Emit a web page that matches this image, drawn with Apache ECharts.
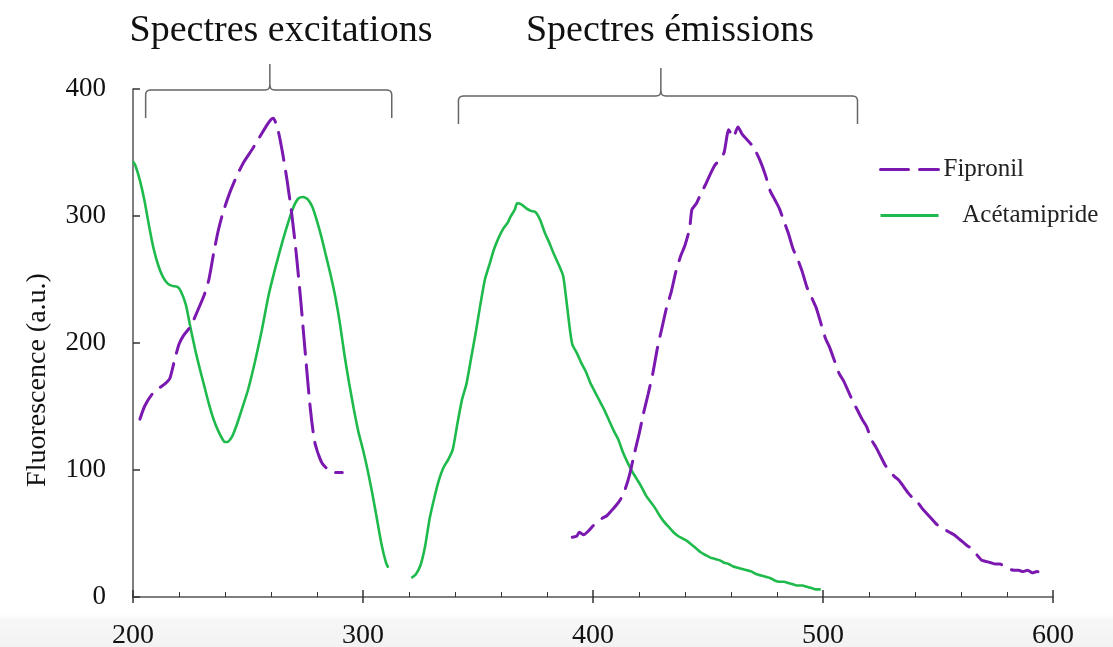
<!DOCTYPE html>
<html>
<head>
<meta charset="utf-8">
<script src="https://cdn.jsdelivr.net/npm/echarts@6/dist/echarts.min.js"></script>
<style>
html,body{margin:0;padding:0;background:#fff;}
#c{width:1113px;height:647px;}
</style>
</head>
<body>
<div id="c"></div>
<script>
// ---- data (wavelength nm, fluorescence a.u.) ----
const seriesNames = ['Fipronil', 'Acétamipride'];
const xTicks = [200, 300, 400, 500, 600];
const yTicks = [0, 100, 200, 300, 400];
const sectionTitles = ['Spectres excitations', 'Spectres émissions'];
const yAxisTitle = 'Fluorescence (a.u.)';
// brace ranges in wavelength units: [start, centre, end]
const excitationBrace = [205.5, 259.5, 312.5];
const emissionBrace = [341.5, 429.5, 515];

const fipronilExcitation = [[203,140],[205,150],[208,159],[211,164],[214,168],[216,172],[218,186],[220,199],[222,206],[225,213],[228,225],[231,238],[233,250],[235,270],[237,288],[239,302],[242,318],[245,331],[248,342],[252,353],[255,362],[258,371],[260,376],[261,377],[263,368],[265,350],[267,328],[269,302],[271,270],[273,232],[275,190],[277,150],[279,122],[282,106],[285,100],[288,98],[291,98]];

const acetamiprideExcitation = [[200,343],[201,340],[203,328],[205,312],[207,292],[209,274],[211,261],[213,252],[215,247],[217,245],[219.5,244],[221,240],[223,230],[225,212],[227,195],[229,180],[231,166],[233,152],[235,140],[237,131],[239,124],[240,122],[241,122],[243,126],[245,135],[247,146],[250,163],[253,185],[256,210],[259,238],[262,260],[265,280],[268,298],[270,308],[272,314],[274,315],[276,313],[278,307],[280,296],[282,283],[284,268],[286,253],[288,236],[290,215],[292,190],[294,168],[296,148],[298,130],[300,116],[302,100],[304,82],[306,62],[308,42],[310,27],[311,23]];

const acetamiprideEmission = [[321,15],[323,18],[325,25],[327,40],[329,62],[331,78],[333,92],[335,102],[337,108],[339,116],[341,136],[343,155],[345,168],[347,188],[349,208],[351,230],[353,250],[355,262],[357,274],[359,283],[361,290],[363,295],[364,299],[366,305],[367,310],[369,309],[371,306],[373,304],[375,303],[377,297],[379,287],[381,279],[383,270],[385,262],[387,253],[388,240],[389,225],[390,210],[391,199],[393,192],[395,184],[397,177],[399,168],[401,161],[403,154],[405,147],[407,139],[409,131],[411,124],[413,114],[415,106],[417,99],[419,93],[421,87],[423,80],[425,75],[427,70],[429,64],[431,59],[433,55],[435,51],[437,48],[439,46],[441,44],[443,41],[445,38],[447,35],[449,33],[451,31],[453,30],[455,29],[457,27],[459,26],[461,24],[463,23],[465,22],[467,21],[469,20],[471,18],[473,17],[475,16],[477,15],[479,13],[481,12],[483,12],[485,11],[487,10],[489,9],[491,9],[493,8],[495,7],[497,6],[499,6]];

const fipronilEmission = [[391,47],[393,48],[394,51],[396,49],[398,52],[400,56],[402,59],[404,62],[406,64],[408,68],[410,72],[412,77],[414,85],[416,97],[418,113],[420,128],[422,145],[424,160],[426,176],[428,196],[430,212],[432,228],[434,240],[436,256],[438,268],[440,277],[442,290],[443,305],[445,310],[447,318],[449,325],[451,333],[453,340],[455,344],[457,350],[459,368],[461,362],[463,370],[465,364],[467,360],[469,356],[471,350],[473,342],[475,332],[477,320],[479,313],[481,306],[483,296],[485,286],[487,274],[489,266],[491,256],[493,244],[495,236],[497,228],[499,216],[501,204],[503,196],[505,186],[507,176],[509,170],[511,162],[513,154],[515,147],[517,140],[519,134],[521,124],[523,118],[525,111],[527,104],[529,99],[531,95],[533,92],[535,87],[537,82],[539,78],[541,75],[543,70],[545,66],[547,62],[549,58],[551,55],[553,53],[555,51],[557,49],[559,46],[561,43],[563,40],[565,38],[567,33],[569,29],[571,28],[573,27],[575,26],[577,26],[579,24],[581,22],[583,21],[585,21],[587,20],[589,21],[591,19],[593,20],[595,19]];

// ---- styling ----
const PURPLE = '#7a18b0';
const GREEN = '#1fba4c';
const AXIS = '#555';
const SERIF = '"Liberation Serif", "DejaVu Serif", serif';
const FIP_DASH = [28, 11];

const chart = echarts.init(document.getElementById('c'), null, {renderer: 'canvas'});

function fipSeries(data) {
  return {
    name: seriesNames[0], type: 'line', data: data, showSymbol: false, symbol: 'none',
    smooth: 0.2, lineStyle: {color: PURPLE, width: 3, type: FIP_DASH, cap: 'round'},
    itemStyle: {color: PURPLE}, z: 3
  };
}
function aceSeries(data) {
  return {
    name: seriesNames[1], type: 'line', data: data, showSymbol: false, symbol: 'none',
    smooth: 0.2, lineStyle: {color: GREEN, width: 2.6},
    itemStyle: {color: GREEN}, z: 2
  };
}

const xMin = xTicks[0], xMax = xTicks[xTicks.length - 1];
const yMin = yTicks[0], yMax = yTicks[yTicks.length - 1];

chart.setOption({
  animation: false,
  backgroundColor: '#fff',
  grid: {left: 133, right: 60, top: 89, bottom: 50, containLabel: false, outerBoundsMode: 'none'},
  legend: {
    orient: 'vertical', left: 874, top: 152,
    itemWidth: 58, itemHeight: 24, itemGap: 21,
    itemStyle: {opacity: 0},
    textStyle: {fontFamily: SERIF, fontSize: 25, color: '#222'},
    data: [
      {name: seriesNames[0], lineStyle: {type: FIP_DASH, width: 3, color: PURPLE}},
      {name: seriesNames[1], lineStyle: {width: 3, color: GREEN}}
    ],
    formatter: function (n) { return n === seriesNames[1] ? '   ' + n : n; }
  },
  xAxis: [{
    type: 'value', min: xMin, max: xMax, interval: 100,
    axisLine: {show: true, lineStyle: {color: AXIS, width: 1.5}},
    axisTick: {show: true, inside: true, length: 7, lineStyle: {color: '#333', width: 1.5}},
    minorTick: {show: true, splitNumber: 5, length: 5, lineStyle: {color: '#333', width: 1}},
    splitLine: {show: false},
    axisLabel: {fontFamily: SERIF, fontSize: 28, color: '#111', margin: 25},
  }, {
    type: 'value', min: xMin, max: xMax, interval: 100, position: 'bottom',
    axisLine: {show: false},
    axisTick: {show: true, inside: false, length: 6, lineStyle: {color: '#333', width: 1.5}},
    axisLabel: {show: false}, splitLine: {show: false}
  }],
  yAxis: {
    type: 'value', min: yMin, max: yMax, interval: 100,
    axisLine: {show: true, lineStyle: {color: AXIS, width: 1.5}},
    axisTick: {show: true, inside: true, length: 7, lineStyle: {color: '#333', width: 1.5}},
    splitLine: {show: false},
    axisLabel: {fontFamily: SERIF, fontSize: 27, color: '#111', margin: 27}
  },
  series: [
    aceSeries(acetamiprideExcitation),
    aceSeries(acetamiprideEmission),
    fipSeries(fipronilExcitation),
    fipSeries(fipronilEmission)
  ]
});

// ---- braces & texts (positions derived from axis scales) ----
function px(v) { return chart.convertToPixel({xAxisIndex: 0}, v); }
const topY = chart.convertToPixel({yAxisIndex: 0}, yMax);

// quadratic bezier corner sampled into points
function corner(p0, p1, p2) {
  const pts = [];
  for (let i = 0; i <= 6; i++) {
    const t = i / 6, u = 1 - t;
    pts.push([u * u * p0[0] + 2 * u * t * p1[0] + t * t * p2[0],
              u * u * p0[1] + 2 * u * t * p1[1] + t * t * p2[1]]);
  }
  return pts;
}
function braceHalves(r, y0, drop, rise) {
  const a = px(r[0]), c = px(r[1]), b = px(r[2]);
  const k = 5;
  const left = [[a, y0 + drop]]
    .concat(corner([a, y0 + k], [a, y0], [a + k, y0]))
    .concat(corner([c - k, y0], [c, y0], [c, y0 - k]))
    .concat([[c, y0 - rise]]);
  const right = corner([c, y0 - k], [c, y0], [c + k, y0])
    .concat(corner([b - k, y0], [b, y0], [b, y0 + k]))
    .concat([[b, y0 + drop]]);
  return [left, right];
}
const braceStyle = {fill: null, stroke: '#666', lineWidth: 1.5};
const braceEls = [];
[[excitationBrace, topY + 1, 28, 26], [emissionBrace, topY + 7, 28, 28]].forEach(function (b) {
  braceHalves(b[0], b[1], b[2], b[3]).forEach(function (pts) {
    braceEls.push({type: 'polyline', silent: true, shape: {points: pts}, style: braceStyle});
  });
});

chart.setOption({
  graphic: [
    {type: 'rect', z: -10, silent: true, shape: {x: 0, y: 614, width: 1113, height: 33},
      style: {fill: {type: 'linear', x: 0, y: 0, x2: 0, y2: 1, colorStops: [{offset: 0, color: '#ffffff'}, {offset: 0.2, color: '#f7f7f7'}, {offset: 1, color: '#f2f2f2'}]}}}
  ].concat(braceEls).concat([
    {type: 'text', silent: true, x: 281, y: 31,
      style: {text: sectionTitles[0], font: '38px ' + SERIF, fill: '#111', align: 'center', verticalAlign: 'middle'}},
    {type: 'text', silent: true, x: 670, y: 31,
      style: {text: sectionTitles[1], font: '38px ' + SERIF, fill: '#111', align: 'center', verticalAlign: 'middle'}},
    {type: 'text', silent: true, x: 38, y: 380, rotation: Math.PI / 2,
      style: {text: yAxisTitle, font: '28px ' + SERIF, fill: '#111', align: 'center', verticalAlign: 'middle'}}
  ])
});
</script>
</body>
</html>
